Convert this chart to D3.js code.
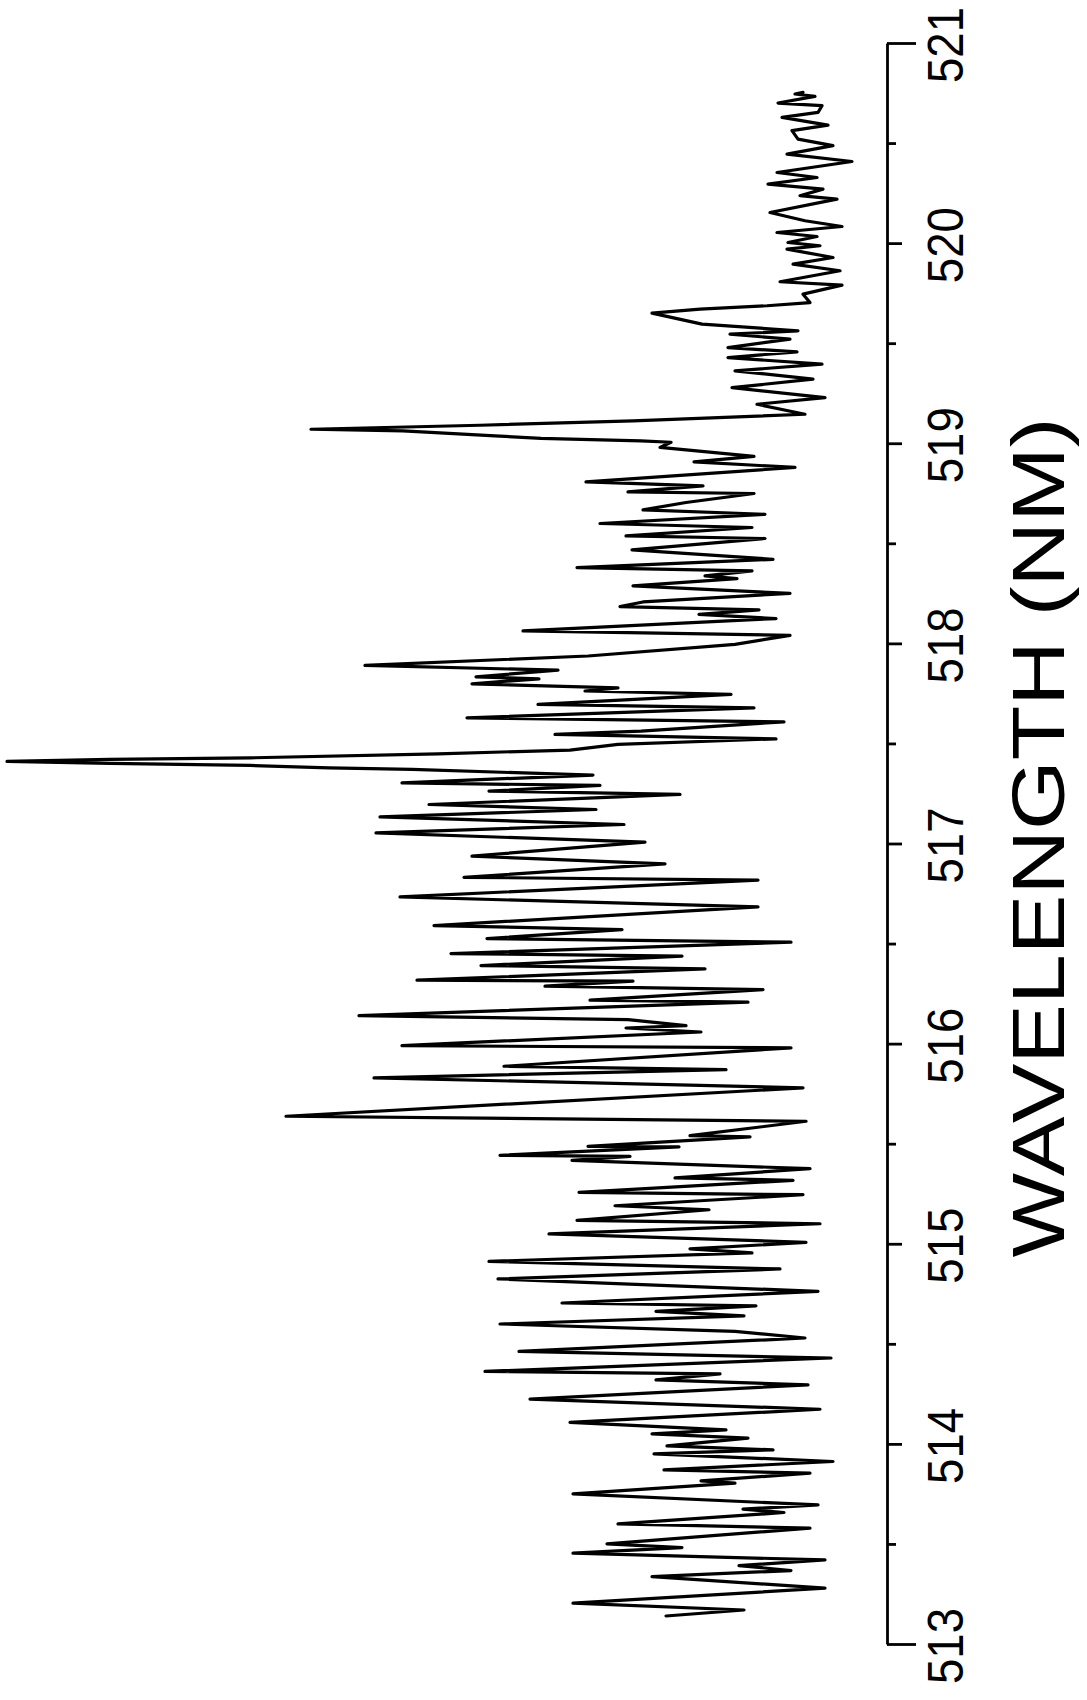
<!DOCTYPE html>
<html>
<head>
<meta charset="utf-8">
<script src="https://cdn.jsdelivr.net/npm/d3@7"></script>
<style>
  html, body { margin: 0; padding: 0; background: #fff; }
  svg { display: block; }
  text { font-family: "Liberation Sans", Arial, Helvetica, sans-serif; fill: #000; }
</style>
</head>
<body>
<svg id="chart" width="1087" height="1700"></svg>
<script>
// Emission spectrum, wavelength in nm (plotted vertically) and intensity (arbitrary units, grows to the left)
const wavelength = [
  513.14, 513.17, 513.204, 513.279, 513.337, 513.367, 513.392, 513.42, 513.454, 513.482,
  513.50, 513.579, 513.60, 513.657, 513.674, 513.695, 513.75, 513.804, 513.815, 513.854,
  513.87, 513.912, 513.95, 513.97, 513.99, 514.029, 514.05, 514.07, 514.107, 514.173,
  514.224, 514.295, 514.32, 514.35, 514.362, 514.429, 514.462, 514.529, 514.562, 514.599,
  514.64, 514.662, 514.69, 514.704, 514.762, 514.824, 514.874, 514.912, 514.954, 514.974,
  515.007, 515.049, 515.10, 515.117, 515.17, 515.19, 515.245, 515.257, 515.317, 515.329,
  515.375, 515.417, 515.437, 515.442, 515.484, 515.487, 515.534, 515.54, 515.612, 515.637,
  515.779, 515.829, 515.87, 515.887, 515.979, 515.99, 516.058, 516.078, 516.09, 516.12,
  516.14, 516.207, 516.217, 516.27, 516.287, 516.312, 516.317, 516.374, 516.39, 516.437,
  516.45, 516.507, 516.525, 516.57, 516.59, 516.683, 516.733, 516.817, 516.831, 516.898,
  516.937, 517.007, 517.053, 517.095, 517.133, 517.17, 517.195, 517.245, 517.262, 517.29,
  517.303, 517.342, 517.37, 517.378, 517.39, 517.40, 517.41, 517.42, 517.428, 517.448,
  517.467, 517.495, 517.523, 517.545, 517.562, 517.608, 517.628, 517.678, 517.695, 517.745,
  517.762, 517.778, 517.798, 517.823, 517.833, 517.866, 517.89, 517.937, 517.995, 518.04,
  518.062, 518.124, 518.145, 518.167, 518.184, 518.207, 518.25, 518.287, 518.324, 518.337,
  518.362, 518.379, 518.42, 518.467, 518.524, 518.537, 518.579, 518.599, 518.645, 518.667,
  518.704, 518.749, 518.757, 518.787, 518.807, 518.879, 518.907, 518.934, 518.979, 519.005,
  519.012, 519.024, 519.037, 519.062, 519.07, 519.09, 519.112, 519.145, 519.195, 519.228,
  519.278, 519.32, 519.362, 519.395, 519.428, 519.457, 519.478, 519.52, 519.545, 519.562,
  519.595, 519.65, 519.67, 519.687, 519.703, 519.745, 519.79, 519.807, 519.862, 519.895,
  519.928, 519.97, 519.987, 520.003, 520.033, 520.053, 520.083, 520.112, 520.153, 520.22,
  520.237, 520.27, 520.295, 520.328, 520.353, 520.408, 520.445, 520.487, 520.52, 520.562,
  520.59, 520.628, 520.653, 520.687, 520.70, 520.733, 520.745, 520.753
];

const intensity = [
  214, 136, 307, 55, 228, 89, 141, 55, 307, 198,
  273, 70, 262, 96, 137, 62, 307, 145, 179, 70,
  216, 47, 226, 107, 213, 132, 228, 154, 310, 60,
  350, 72, 224, 160, 395, 49, 361, 75, 145, 380,
  136, 224, 124, 318, 62, 382, 100, 391, 128, 190,
  74, 331, 60, 303, 171, 265, 77, 301, 87, 205,
  70, 308, 250, 380, 201, 292, 130, 190, 74, 594,
  77, 506, 154, 376, 89, 478, 179, 254, 194, 252,
  521, 132, 290, 117, 335, 247, 463, 175, 399, 198,
  429, 89, 393, 258, 446, 122, 480, 122, 416, 215,
  408, 235, 504, 256, 500, 284, 451, 200, 391, 280,
  478, 287, 468, 551, 630, 770, 873, 770, 630, 442,
  310, 262, 104, 325, 239, 96, 413, 126, 342, 149,
  295, 262, 408, 341, 404, 322, 515, 292, 145, 90,
  357, 104, 181, 121, 260, 237, 90, 247, 143, 175,
  128, 303, 107, 248, 115, 254, 128, 280, 115, 237,
  194, 126, 252, 177, 294, 85, 186, 126, 220, 209,
  239, 339, 385, 477, 569, 400, 247, 75, 123, 55,
  148, 67, 145, 58, 152, 83, 152, 90, 150, 82,
  178, 228, 180, 113, 70, 77, 38, 100, 40, 87,
  47, 93, 60, 92, 63, 103, 38, 75, 110, 43,
  80, 57, 112, 63, 103, 28, 93, 47, 82, 88,
  52, 98, 62, 58, 102, 65, 85, 77
];

// Axis ticks: a tick every 0.5 nm, labels on whole nanometres
const tickValues = [513, 513.5, 514, 514.5, 515, 515.5, 516, 516.5, 517, 517.5, 518, 518.5, 519, 519.5, 520, 520.5, 521];
const tickLabels = ["513", "514", "515", "516", "517", "518", "519", "520", "521"];
const axisTitle = "WAVELENGTH (NM)";

const svg = d3.select("#chart");
svg.append("rect").attr("width", 1087).attr("height", 1700).attr("fill", "#fff");

const axisX = 887;
const y = d3.scaleLinear().domain([513, 521]).range([1644, 43]);
const x = d3.scaleLinear().domain([0, 880]).range([880, 0]);

const points = wavelength.map((w, i) => ({ w, v: intensity[i] }));

// Spectrum trace
svg.append("path")
  .datum(points)
  .attr("fill", "none")
  .attr("stroke", "#000")
  .attr("stroke-width", 3.2)
  .attr("stroke-linejoin", "round")
  .attr("stroke-linecap", "round")
  .attr("d", d3.line().x(d => x(d.v)).y(d => y(d.w)));

// Wavelength axis on the right edge
const axis = d3.axisRight(y)
  .tickValues(tickValues)
  .tickSize(15)
  .tickSizeOuter(0)
  .tickFormat("");

const gAxis = svg.append("g")
  .attr("transform", `translate(${axisX},0)`)
  .call(axis);

gAxis.select(".domain").attr("stroke", "#000").attr("stroke-width", 2.8);
gAxis.selectAll(".tick line")
  .attr("stroke", "#000")
  .attr("stroke-width", 2.8)
  .attr("x2", d => (d === 513 || d === 521) ? 29 : (Number.isInteger(d) ? 15 : 9));

// Rotated tick labels, reading bottom to top
gAxis.selectAll(".tick text").remove();
svg.append("g").selectAll("text")
  .data(tickLabels)
  .join("text")
  .attr("transform", d => `translate(963,${y(+d) + 2}) rotate(-90)`)
  .attr("text-anchor", "middle")
  .attr("font-size", 50)
  .attr("textLength", 76)
  .attr("lengthAdjust", "spacingAndGlyphs")
  .text(d => d);

// Axis title
svg.append("text")
  .attr("transform", `translate(1064,${y(517.03)}) rotate(-90)`)
  .attr("text-anchor", "middle")
  .attr("font-size", 74)
  .attr("textLength", 840)
  .attr("lengthAdjust", "spacingAndGlyphs")
  .text(axisTitle);
</script>
</body>
</html>
